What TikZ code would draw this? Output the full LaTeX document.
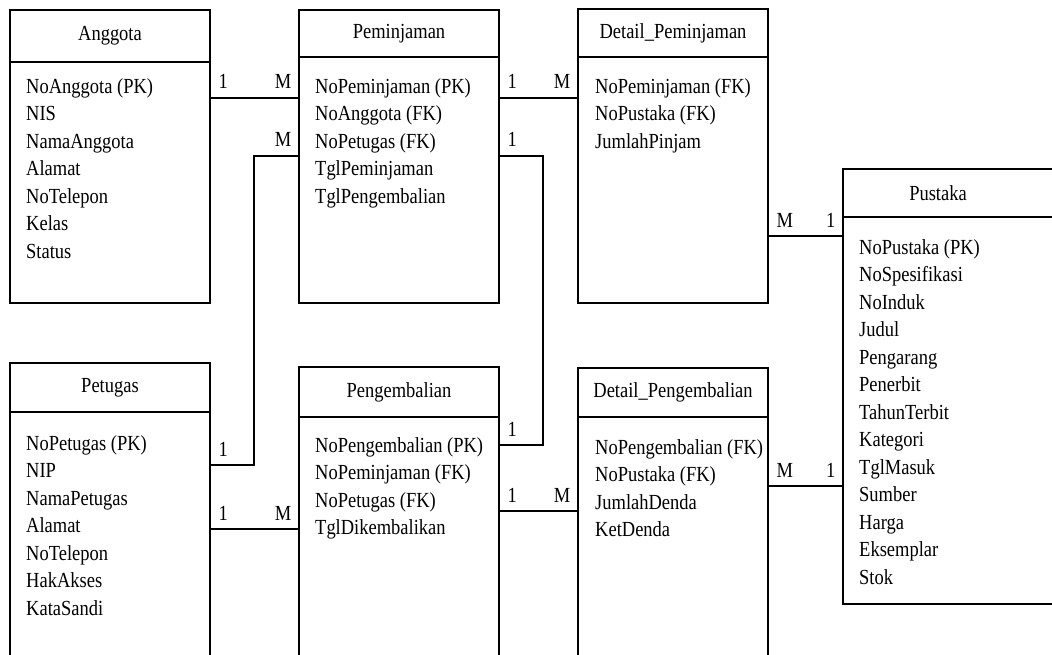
\documentclass[tikz,border=0pt]{standalone}
\usepackage{fontspec}
\setmainfont{Liberation Serif}[FakeStretch=0.86]
\usetikzlibrary{positioning}

\tikzset{
  hdr/.style={draw, line width=1.3pt, anchor=north west, outer sep=0pt, inner sep=0pt},
  tbl/.style={draw, line width=1.3pt, outer sep=0pt, inner sep=0pt},
  attr/.style={anchor=north west, inner sep=0pt, align=left},
  lcard/.style={anchor=base west, xshift=8pt, yshift=9pt, inner sep=0pt},
  rcard/.style={anchor=base east, xshift=-7pt, yshift=9pt, inner sep=0pt},
  rel/.style={line width=1.3pt}
}

\begin{document}
\begin{tikzpicture}[x=1pt, y=-1pt, font=\fontsize{21.5pt}{27.5pt}\selectfont]
		\useasboundingbox (0,0) rectangle (1052,655);
		\clip (0,0) rectangle (1052,655);
		% tables, top row
		\node[hdr, minimum width=200pt, minimum height=52pt] (anggota) at (10,10) {Anggota};
		\node[tbl, minimum width=200pt, minimum height=241pt, below=0pt of anggota] (anggotaB) {};
		\node[attr] (anggotaA) at ([shift={(16pt,-16pt)}]anggotaB.north west) {NoAnggota (PK)\\NIS\\NamaAnggota\\Alamat\\NoTelepon\\Kelas\\Status};
		\node[hdr, minimum width=200pt, minimum height=47pt] (pinjam) at (299,10) {Peminjaman};
		\node[tbl, minimum width=200pt, minimum height=246pt, below=0pt of pinjam] (pinjamB) {};
		\node[attr] (pinjamA) at ([shift={(16pt,-21pt)}]pinjamB.north west) {NoPeminjaman (PK)\\NoAnggota (FK)\\NoPetugas (FK)\\TglPeminjaman\\TglPengembalian};
		\node[hdr, minimum width=190pt, minimum height=48pt] (dpinjam) at (578,9) {Detail\_Peminjaman};
		\node[tbl, minimum width=190pt, minimum height=246pt, below=0pt of dpinjam] (dpinjamB) {};
		\node[attr] (dpinjamA) at ([shift={(17pt,-21pt)}]dpinjamB.north west) {NoPeminjaman (FK)\\NoPustaka (FK)\\JumlahPinjam};
		\node[hdr, minimum width=230pt, minimum height=48pt] (pustaka) at (843,169) {\hspace*{-40pt}Pustaka};
		\node[tbl, minimum width=230pt, minimum height=387pt, below=0pt of pustaka] (pustakaB) {};
		\node[attr] (pustakaA) at ([shift={(16pt,-22pt)}]pustakaB.north west) {NoPustaka (PK)\\NoSpesifikasi\\NoInduk\\Judul\\Pengarang\\Penerbit\\TahunTerbit\\Kategori\\TglMasuk\\Sumber\\Harga\\Eksemplar\\Stok};
		% tables, bottom row
		\node[hdr, minimum width=200pt, minimum height=49pt] (petugas) at (10,363) {Petugas};
		\node[tbl, minimum width=200pt, minimum height=260pt, below=0pt of petugas] (petugasB) {};
		\node[attr] (petugasA) at ([shift={(16pt,-23pt)}]petugasB.north west) {NoPetugas (PK)\\NIP\\NamaPetugas\\Alamat\\NoTelepon\\HakAkses\\KataSandi};
		\node[hdr, minimum width=200pt, minimum height=50pt] (kembali) at (299,367) {Pengembalian};
		\node[tbl, minimum width=200pt, minimum height=260pt, below=0pt of kembali] (kembaliB) {};
		\node[attr] (kembaliA) at ([shift={(16pt,-20pt)}]kembaliB.north west) {NoPengembalian (PK)\\NoPeminjaman (FK)\\NoPetugas (FK)\\TglDikembalikan};
		\node[hdr, minimum width=190pt, minimum height=49pt] (dkembali) at (578,368) {Detail\_Pengembalian};
		\node[tbl, minimum width=190pt, minimum height=260pt, below=0pt of dkembali] (dkembaliB) {};
		\node[attr] (dkembaliA) at ([shift={(17pt,-22pt)}]dkembaliB.north west) {NoPengembalian (FK)\\NoPustaka (FK)\\JumlahDenda\\KetDenda};
		% relations
		\draw[rel] ([yshift=-36pt]anggotaB.north east) node[lcard] {1} -- ([yshift=-41pt]pinjamB.north west) node[rcard] {M};
		\draw[rel] ([yshift=-41pt]pinjamB.north east) node[lcard] {1} -- ([yshift=-41pt]dpinjamB.north west) node[rcard] {M};
		\draw[rel] ([yshift=-99pt]pinjamB.north west) node[rcard] {M} -- ++(-45,0) |- ([yshift=-53pt]petugasB.north east) node[lcard] {1};
		\draw[rel] ([yshift=-99pt]pinjamB.north east) node[lcard] {1} -- ++(44,0) |- ([yshift=-28pt]kembaliB.north east) node[lcard] {1};
		\draw[rel] ([yshift=-117pt]petugasB.north east) node[lcard] {1} -- ([yshift=-112pt]kembaliB.north west) node[rcard] {M};
		\draw[rel] ([yshift=-94pt]kembaliB.north east) node[lcard] {1} -- ([yshift=-94pt]dkembaliB.north west) node[rcard] {M};
		\draw[rel] ([yshift=-179pt]dpinjamB.north east) node[lcard] {M} -- ([yshift=-19pt]pustakaB.north west) node[rcard] {1};
		\draw[rel] ([yshift=-69pt]dkembaliB.north east) node[lcard] {M} -- ([yshift=-269pt]pustakaB.north west) node[rcard] {1};
\end{tikzpicture}
\end{document}
